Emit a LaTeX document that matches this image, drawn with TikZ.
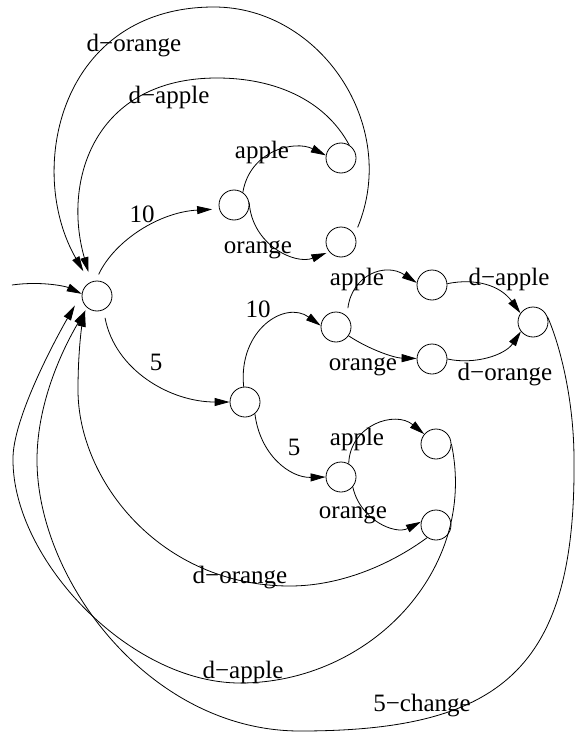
\documentclass[tikz,border=0pt]{standalone}
\usepackage{fontspec}
\setmainfont{Liberation Serif}
\usetikzlibrary{arrows.meta}
\begin{document}
\begin{tikzpicture}[x=1pt,y=-1pt,line width=0.8pt,
  st/.style={circle,draw,minimum size=30pt,inner sep=0pt},
  lab/.style={anchor=base,inner sep=0pt,font=\fontsize{25}{30}\selectfont},
  arr/.style={-{Triangle[length=15pt,width=8pt]}}]
\useasboundingbox (0,0) rectangle (574,733);
% states
\node[st] (S)  at (97,296) {};
\node[st] (A)  at (234,205) {};
\node[st] (AA) at (341,158) {};
\node[st] (AO) at (341,242) {};
\node[st] (B)  at (245,402) {};
\node[st] (C)  at (336,327) {};
\node[st] (CA) at (432,285) {};
\node[st] (CO) at (432,359) {};
\node[st] (CF) at (533,322) {};
\node[st] (D)  at (341,477) {};
\node[st] (DA) at (436,444) {};
\node[st] (DO) at (436,525) {};
\coordinate (in) at (12,285);
% connectors
\draw[arr] (in) .. controls (40,281) and (65,286) .. (S.172);
\draw[arr,shorten <=7pt,shorten >=7pt] (S.95) .. controls (115,240) and (160,212) .. (A.195);
\draw[arr] (A.55) .. controls (250,150) and (295,140) .. (AA.170);
\draw[arr,shorten >=3pt] (A.10) .. controls (252,245) and (295,265) .. (AO.220);
\draw[arr,shorten >=10pt] (AA.58) .. controls (325,100) and (275,78) .. (217,78)
   .. controls (95,78) and (62,180) .. (S.112);
\draw[arr,shorten <=8pt,shorten >=13pt] (AO.28) .. controls (400,125) and (320,7) .. (214,7)
   .. controls (60,7) and (25,170) .. (S.118);
\draw[arr,shorten <=8pt] (S.-65) .. controls (115,370) and (170,402) .. (B.180);
\draw[arr] (B.95) .. controls (238,330) and (285,300) .. (C.175);
\draw[arr] (B.-50) .. controls (260,455) and (290,478) .. (D.180);
\draw[arr,shorten <=8pt] (C.45) .. controls (352,275) and (385,262) .. (CA.172);
\draw[arr] (C.-35) .. controls (370,350) and (395,358) .. (CO.178);
\draw[arr] (CA.5) .. controls (475,278) and (500,285) .. (CF.145);
\draw[arr] (CO.0) .. controls (475,365) and (505,355) .. (CF.218);
\draw[arr] (D.60) .. controls (350,425) and (395,410) .. (DA.140);
\draw[arr] (D.-40) .. controls (360,520) and (395,535) .. (DO.168);
\draw[arr,shorten >=14pt] (DA.0) .. controls (478,570) and (370,683) .. (240,683)
   .. controls (130,683) and (13,560) .. (13,460)
   .. controls (12,420) and (55,340) .. (S.170);
\draw[arr,shorten >=5pt] (DO.235) .. controls (390,565) and (340,586) .. (290,586)
   .. controls (160,586) and (78,480) .. (78,390)
   .. controls (78,350) and (82,325) .. (S.225);
\draw[arr,shorten >=3pt] (CF.20) .. controls (560,345) and (574,400) .. (574,460)
   .. controls (576,670) and (500,731) .. (300,731)
   .. controls (150,731) and (37,580) .. (37,460)
   .. controls (37,400) and (65,345) .. (S.230);
% labels
\node[lab] (l1)  at (134,52)  {d−orange};
\node[lab] (l2)  at (169,104) {d−apple};
\node[lab] (l3)  at (262,158) {apple};
\node[lab] (l4)  at (142,222) {10};
\node[lab] (l5)  at (258,253) {orange};
\node[lab] (l6)  at (156,370) {5};
\node[lab] (l7)  at (258,317) {10};
\node[lab] (l8)  at (357,285) {apple};
\node[lab] (l9)  at (509,285) {d−apple};
\node[lab] (l10) at (363,370) {orange};
\node[lab] (l11) at (505,380) {d−orange};
\node[lab] (l12) at (294,455) {5};
\node[lab] (l13) at (357,445) {apple};
\node[lab] (l14) at (353,518) {orange};
\node[lab] (l15) at (240,583) {d−orange};
\node[lab] (l16) at (243,678) {d−apple};
\node[lab] (l17) at (422,711) {5−change};
\end{tikzpicture}
\end{document}
